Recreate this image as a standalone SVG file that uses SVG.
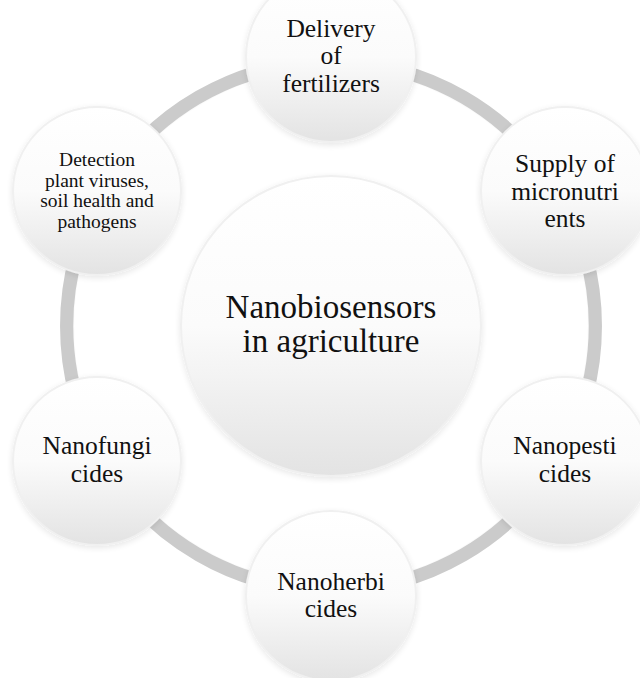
<svg xmlns="http://www.w3.org/2000/svg" width="640" height="678" viewBox="0 0 640 678">
<defs>
<linearGradient id="ball" x1="0" y1="0" x2="0" y2="1">
<stop offset="0" stop-color="#ffffff"/>
<stop offset="0.5" stop-color="#fbfbfb"/>
<stop offset="1" stop-color="#e3e3e3"/>
</linearGradient>
<filter id="sh" x="-20%" y="-20%" width="140%" height="140%">
<feGaussianBlur in="SourceAlpha" stdDeviation="3"/>
<feOffset dx="0" dy="2" result="b"/>
<feComponentTransfer><feFuncA type="linear" slope="0.1"/></feComponentTransfer>
<feMerge><feMergeNode/><feMergeNode in="SourceGraphic"/></feMerge>
</filter>
</defs>
<style>
.arc{fill:none;stroke:#cbcbcb;stroke-width:14}
.hl{fill:none;stroke:#ffffff;stroke-width:1.5;opacity:0.9}
.ball{fill:url(#ball);stroke:#f0f0f0;stroke-width:2;filter:url(#sh)}
.t{font-family:"Liberation Serif","Times New Roman",serif;fill:#111111;text-anchor:middle}
.m{font-size:25.5px}
.s{font-size:19.5px}
.c{font-size:33px}
</style>
<rect width="640" height="678" fill="#ffffff"/>
<g id="connectors">
<path class="arc" d="M331,62 A264,264 0 0 1 559.6,194"/>
<path class="arc" d="M559.6,194 A264,264 0 0 1 559.6,458"/>
<path class="arc" d="M559.6,458 A264,264 0 0 1 331,590"/>
<path class="arc" d="M331,590 A264,264 0 0 1 102.4,458"/>
<path class="arc" d="M102.4,458 A264,264 0 0 1 102.4,194"/>
<path class="arc" d="M102.4,194 A264,264 0 0 1 331,62"/>
<circle class="hl" cx="331" cy="326" r="257"/>
</g>
<g id="center">
<circle class="ball" cx="331" cy="326" r="150"/>
<text class="t c" x="331" y="318">Nanobiosensors</text>
<text class="t c" x="331" y="352">in agriculture</text>
</g>
<g id="delivery">
<circle class="ball" cx="331" cy="57" r="85"/>
<text class="t m" x="331" y="37">Delivery</text>
<text class="t m" x="331" y="64">of</text>
<text class="t m" x="331" y="92">fertilizers</text>
</g>
<g id="supply">
<circle class="ball" cx="565" cy="191" r="84"/>
<text class="t m" x="565" y="172">Supply of</text>
<text class="t m" x="565" y="200">micronutri</text>
<text class="t m" x="565" y="227">ents</text>
</g>
<g id="nanopesticides">
<circle class="ball" cx="565" cy="461" r="84"/>
<text class="t m" x="565" y="454">Nanopesti</text>
<text class="t m" x="565" y="482">cides</text>
</g>
<g id="nanoherbicides">
<circle class="ball" cx="331" cy="596" r="85"/>
<text class="t m" x="331" y="590">Nanoherbi</text>
<text class="t m" x="331" y="617">cides</text>
</g>
<g id="nanofungicides">
<circle class="ball" cx="97" cy="461" r="84"/>
<text class="t m" x="97" y="454">Nanofungi</text>
<text class="t m" x="97" y="482">cides</text>
</g>
<g id="detection">
<circle class="ball" cx="97" cy="191" r="84"/>
<text class="t s" x="97" y="166">Detection</text>
<text class="t s" x="97" y="187">plant viruses,</text>
<text class="t s" x="97" y="207">soil health and</text>
<text class="t s" x="97" y="228">pathogens</text>
</g>
</svg>
